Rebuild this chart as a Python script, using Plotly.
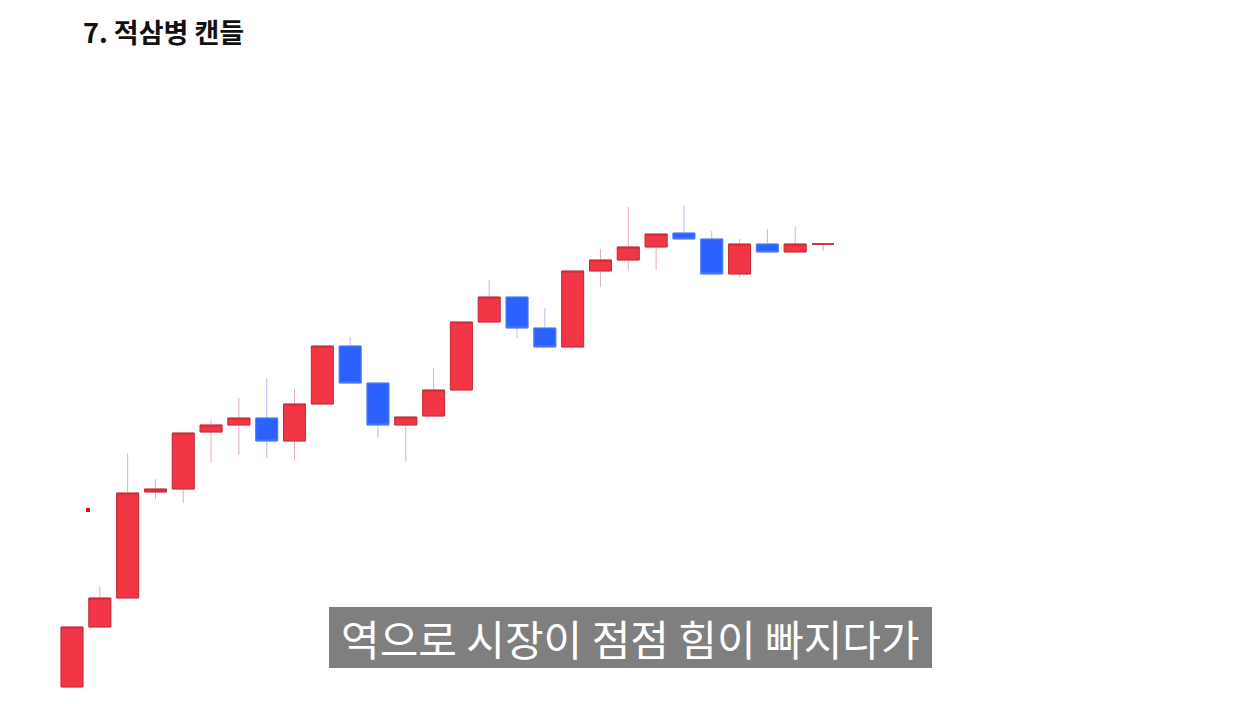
import plotly.graph_objects as go

# ---- data ----
idx = list(range(28))
opens  = [13, 73, 102, 208, 211, 268, 275, 282, 259, 296, 354, 317, 275, 284,
          310, 378, 403, 372, 353, 429, 440, 453, 467, 461, 426, 456, 448, 456]
closes = [73, 102, 207, 211, 267, 275, 282, 259, 296, 354, 317, 275, 283, 310,
          378, 403, 372, 353, 429, 440, 453, 466, 461, 426, 456, 448, 456, 456]
highs  = [74, 114, 247, 221, 267, 280, 302, 322, 311, 354, 363, 317, 283, 332,
          378, 420, 403, 392, 429, 451, 493, 466, 494, 469, 461, 471, 473, 456]
lows   = [13, 73, 102, 201, 197, 237, 245, 242, 239, 296, 317, 262, 239, 284,
          310, 378, 362, 353, 353, 413, 430, 430, 461, 426, 423, 448, 448, 449]

title_text = "7. 적삼병 캔들"
caption_text = "역으로 시장이 점점 힘이 빠지다가"

RED = "#F23645"
BLUE = "#2962FF"

# page body has an 8px margin; lay the figure out in window pixels
OFF = 8
W, H = 1260 - OFF, 704 - OFF


def px(x):
    return (x - OFF) / W


def py(y):
    return 1 - (y - OFF) / H


first_px, last_px = 72, 823
unit = (last_px - first_px) / (len(idx) - 1)
x0 = -(first_px - OFF) / unit
x1 = x0 + W / unit
# price = 700 - window y
y_top = 700 - OFF
y_bot = y_top - H

body_hi = [max(o, c) for o, c in zip(opens, closes)]
body_lo = [min(o, c) for o, c in zip(opens, closes)]

fig = go.Figure()
# wicks (light)
fig.add_trace(go.Candlestick(
    x=idx, open=opens, close=closes, high=highs, low=lows,
    increasing=dict(line=dict(color="#E6AEB7", width=1), fillcolor=RED),
    decreasing=dict(line=dict(color="#B3C0EA", width=1), fillcolor=BLUE),
    showlegend=False, hoverinfo="skip",
))
# bodies
fig.add_trace(go.Candlestick(
    x=idx, open=opens, close=closes, high=body_hi, low=body_lo,
    increasing=dict(line=dict(color="#C42B3B", width=1), fillcolor=RED),
    decreasing=dict(line=dict(color="#4F7DFF", width=1), fillcolor=BLUE),
    showlegend=False,
))

fig.update_layout(
    width=W, height=H,
    margin=dict(l=0, r=0, t=0, b=0),
    paper_bgcolor="white", plot_bgcolor="white",
    boxgap=0.21, boxgroupgap=0,
    xaxis=dict(range=[x0, x1], visible=False, rangeslider=dict(visible=False),
               fixedrange=True),
    yaxis=dict(range=[y_bot, y_top], visible=False, fixedrange=True),
    showlegend=False,
    shapes=[
        dict(type="rect", xref="paper", yref="paper",
             x0=px(329), x1=px(932), y0=py(668), y1=py(607),
             fillcolor="#7F7F7F", line=dict(width=0), layer="above"),
        dict(type="rect", xref="paper", yref="paper",
             x0=px(86), x1=px(90), y0=py(512), y1=py(508),
             fillcolor="#FF0000", line=dict(width=0)),
    ],
    annotations=[
        dict(text="<b>" + title_text + "</b>", xref="paper", yref="paper",
             x=px(81), y=py(32), xanchor="left", yanchor="middle",
             showarrow=False,
             font=dict(family="Noto Sans CJK KR", size=27, color="#111111")),
        dict(text=caption_text, xref="paper", yref="paper",
             x=px(630), y=py(637), xanchor="center", yanchor="middle",
             showarrow=False,
             font=dict(family="Noto Sans CJK KR", size=42, color="white")),
    ],
)

fig.write_html("out.html")
